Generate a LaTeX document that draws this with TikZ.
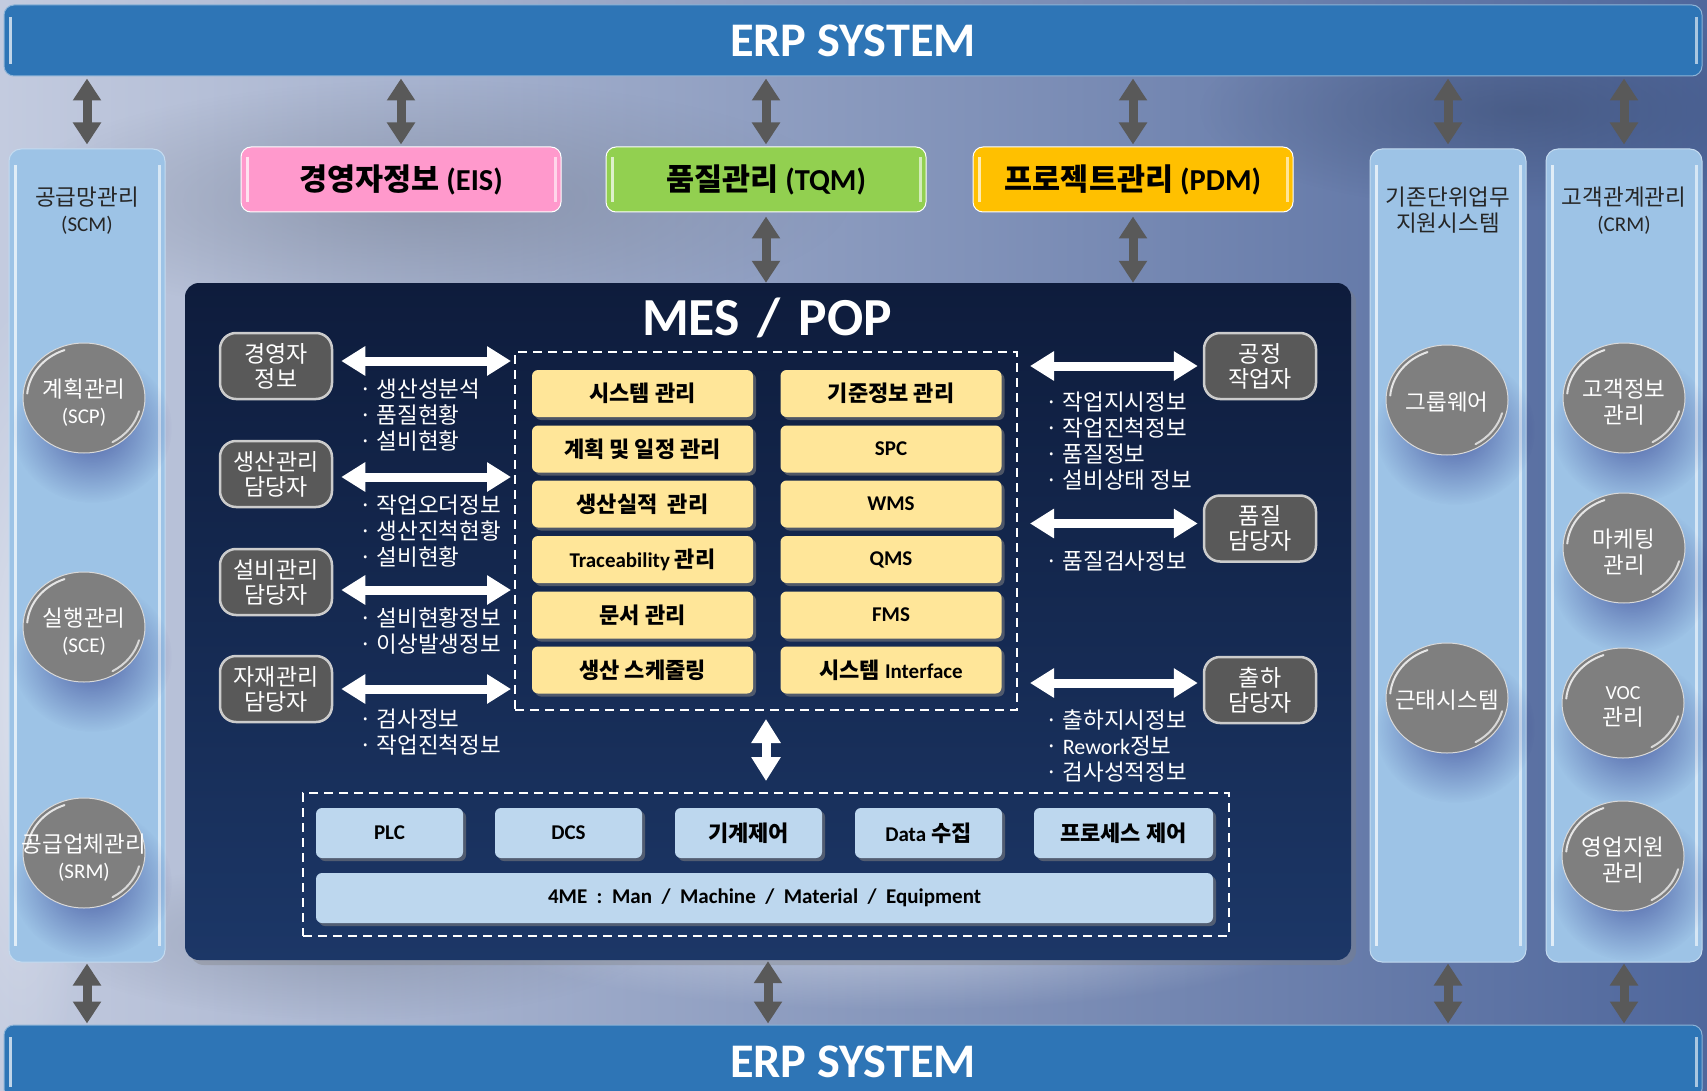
\documentclass[tikz,border=0pt]{standalone}
\usepackage{fontspec}
\usepackage{graphicx}
\setmainfont{Noto Sans CJK KR}
\newfontfamily\cf{Carlito}[Scale=1.05]
\newcommand\lt[2][20]{{\cf\fontsize{#1}{24}\selectfont #2}}
\usetikzlibrary{arrows.meta,shapes.geometric,shadows,fadings}
\tikzfading[name=softblob, inner color=transparent!0, outer color=transparent!100]
\definecolor{erpblue}{HTML}{2E75B6}
\definecolor{colblue}{HTML}{9DC3E6}
\definecolor{mestop}{HTML}{0E1C3C}
\definecolor{mesbot}{HTML}{1C3767}
\definecolor{eispink}{HTML}{FF99CC}
\definecolor{tqmgreen}{HTML}{92D050}
\definecolor{pdmgold}{HTML}{FFC000}
\definecolor{ybox}{HTML}{FFE699}
\definecolor{lbbox}{HTML}{BDD7EE}
\definecolor{actgray}{HTML}{595959}
\definecolor{ballgray}{HTML}{7F7F7F}
\definecolor{arrgray}{HTML}{595959}
\definecolor{bgL}{HTML}{C3CBDF}
\definecolor{bgM}{HTML}{9FAECB}
\definecolor{bgR}{HTML}{4F679C}
\definecolor{bgGray}{HTML}{7B8498}
\newcommand\gloss[1]{%
  \draw[white, opacity=.8, line width=2pt, line cap=round]
    ([shift={(110:57pt and 51pt)}]#1.center) arc[start angle=110, end angle=175, x radius=57pt, y radius=51pt];
  \draw[white, opacity=.7, line width=2pt, line cap=round]
    ([shift={(-60:57pt and 51pt)}]#1.center) arc[start angle=-60, end angle=-15, x radius=57pt, y radius=51pt];}
\newcommand\softshadow[1]{%
  \fill[black!60!blue, opacity=.5, path fading=softblob] ([xshift=8pt,yshift=-30pt]#1) ellipse [x radius=80pt, y radius=75pt];}
\begin{document}
\begin{tikzpicture}[x=1pt,y=-1pt,
  edgeglow/.style={path picture={
     \draw[white,opacity=.7,line width=3pt] ([xshift=6pt,yshift=-#1]path picture bounding box.north west) -- ([xshift=6pt,yshift=#1]path picture bounding box.south west);
     \draw[white,opacity=.6,line width=3pt] ([xshift=-6pt,yshift=-#1]path picture bounding box.north east) -- ([xshift=-6pt,yshift=#1]path picture bounding box.south east);}},
  erpbar/.style={rectangle, rounded corners=10pt, fill=erpblue, draw=erpblue!55!white, line width=1pt,
     minimum width=1698pt, minimum height=71pt, inner sep=0pt, text=white,
     font=\cf\bfseries\fontsize{46}{48}\selectfont, edgeglow=12pt},
  column/.style={rectangle, rounded corners=12pt, fill=colblue, draw=colblue!60!white, line width=1pt,
     minimum width=156pt, minimum height=813pt, inner sep=0pt, edgeglow=16pt},
  header/.style={align=center, text=black!85, inner sep=0pt, font=\fontsize{22.5}{26}\selectfont},
  ball/.style={ellipse, fill=ballgray, draw=white!70!gray, line width=1pt,
     minimum width=122pt, minimum height=110pt, inner sep=0pt},
  balltext/.style={align=center, text=white, inner sep=0pt, font=\fontsize{22.5}{26}\selectfont},
  topbox/.style={rectangle, rounded corners=10pt, minimum width=320pt, minimum height=65pt, inner sep=0pt,
     draw=white!60, line width=1pt, font=\bfseries\fontsize{30.5}{34}\selectfont, edgeglow=10pt},
  mesbox/.style={rectangle, rounded corners=14pt, top color=mestop, bottom color=mesbot,
     minimum width=1166pt, minimum height=677pt, inner sep=0pt,
     drop shadow={shadow xshift=5pt, shadow yshift=-5pt, opacity=.35}},
  mestitle/.style={text=white, inner sep=0pt, font=\cf\bfseries\fontsize{51}{54}\selectfont},
  actor/.style={rectangle, rounded corners=16pt, fill=actgray, draw=white!80!black, line width=2.5pt,
     minimum width=112pt, minimum height=66pt, inner sep=0pt, align=center, text=white,
     font=\fontsize{23}{25}\selectfont},
  dashbox/.style={rectangle, draw=white, line width=2pt, dash pattern=on 9pt off 6pt, inner sep=0pt},
  module/.style={rectangle, rounded corners=6pt, fill=ybox, minimum width=221pt, minimum height=47pt,
     inner sep=0pt, font=\bfseries\fontsize{22}{24}\selectfont,
     drop shadow={shadow xshift=3pt, shadow yshift=-3pt, opacity=.55}},
  fieldbox/.style={rectangle, rounded corners=6pt, fill=lbbox, minimum height=50pt, inner sep=0pt,
     font=\bfseries\fontsize{22}{24}\selectfont,
     drop shadow={shadow xshift=3pt, shadow yshift=-3pt, opacity=.55}},
  info/.style={anchor=west, align=left, text=white, inner sep=0pt, font=\fontsize{22.5}{26}\selectfont},
  garrow/.style={draw=arrgray, line width=9pt, {Triangle[width=27pt,length=22pt]}-{Triangle[width=27pt,length=22pt]}},
  warrow/.style={draw=white, line width=9pt, {Triangle[width=28pt,length=24pt]}-{Triangle[width=28pt,length=24pt]}}
]
\useasboundingbox (0,0) rectangle (1707,1091);
\clip (0,0) rectangle (1707,1091);
% background
\shade[left color=bgL, middle color=bgM, right color=bgR] (0,0) rectangle (1707,1091);
\fill[bgGray, opacity=.6, path fading=softblob] (430,200) ellipse [x radius=420pt, y radius=120pt];
\fill[bgGray, opacity=.5, path fading=softblob] (350,940) ellipse [x radius=300pt, y radius=80pt];
\fill[white, opacity=.45, path fading=softblob] (900,930) ellipse [x radius=420pt, y radius=80pt];
\fill[white, opacity=.4, path fading=softblob] (20,700) ellipse [x radius=80pt, y radius=400pt];
\fill[bgR!70!black, opacity=.5, path fading=softblob] (1520,110) ellipse [x radius=320pt, y radius=100pt];

% ERP bars
\node[erpbar] (erpT) at (853,40.5) {ERP SYSTEM};
\node[erpbar, minimum height=74pt] (erpB) at (853,1062) {ERP SYSTEM};

% side columns
\node[column] (scm) at (87,555.5) {};
\node[column] (ksys) at (1448,555.5) {};
\node[column] (crm) at (1624,555.5) {};
\node[header] (scmH) at (87,210.5) {공급망관리\\\lt{(SCM)}};
\node[header] (ksysH) at (1448,210.5) {기존단위업무\\지원시스템};
\node[header] (crmH) at (1624,210.5) {고객관계관리\\\lt{(CRM)}};

% balls
\coordinate (pSCP) at (84,398);
\coordinate (pSCE) at (84,627);
\coordinate (pSRM) at (84,853);
\coordinate (pGW) at (1447,400);
\coordinate (pGT) at (1447,698);
\coordinate (pCI) at (1624,398);
\coordinate (pMK) at (1624,548);
\coordinate (pVOC) at (1623,703);
\coordinate (pSA) at (1623,856);
\softshadow{pSCP}\softshadow{pSCE}\softshadow{pSRM}
\softshadow{pGW}\softshadow{pGT}
\softshadow{pCI}\softshadow{pMK}\softshadow{pVOC}\softshadow{pSA}
\node[ball, label={[balltext, yshift=-5pt]center:계획관리\\\lt{(SCP)}}] (scp) at (pSCP) {};
\node[ball, label={[balltext, yshift=-5pt]center:실행관리\\\lt{(SCE)}}] (sce) at (pSCE) {};
\node[ball, label={[balltext, yshift=-5pt]center:공급업체관리\\\lt{(SRM)}}] (srm) at (pSRM) {};
\node[ball, label={[balltext, yshift=-2pt]center:그룹웨어}] (gw) at (pGW) {};
\node[ball, label={[balltext, yshift=-2pt]center:근태시스템}] (gt) at (pGT) {};
\node[ball, label={[balltext, yshift=-4pt]center:고객정보\\관리}] (ci) at (pCI) {};
\node[ball, label={[balltext, yshift=-4pt]center:마케팅\\관리}] (mk) at (pMK) {};
\node[ball, label={[balltext, yshift=-4pt]center:\lt[19]{VOC}\\관리}] (voc) at (pVOC) {};
\node[ball, label={[balltext, yshift=-4pt]center:영업지원\\관리}] (sa) at (pSA) {};
\gloss{scp}\gloss{sce}\gloss{srm}\gloss{gw}\gloss{gt}\gloss{ci}\gloss{mk}\gloss{voc}\gloss{sa}

% top boxes
\node[topbox, fill=eispink] (eis) at (401,179.5) {경영자정보 \lt[29]{(EIS)}};
\node[topbox, fill=tqmgreen] (tqm) at (766,179.5) {품질관리 \lt[29]{(TQM)}};
\node[topbox, fill=pdmgold] (pdm) at (1133,179.5) {프로젝트관리 \lt[29]{(PDM)}};

% MES block
\node[mesbox] (mes) at (768,621.5) {};
\node[mestitle] (mesT) at (767,318) {MES\hspace{18pt}/\hspace{18pt}POP};
\node[dashbox, minimum width=502pt, minimum height=358pt] (core) at (766,531) {};

\node[module] (m1) at (642.5,393.5) {시스템 관리};
\node[module] (m2) at (891,393.5) {기준정보 관리};
\node[module] (m3) at (642.5,449) {계획 및 일정 관리};
\node[module] (m4) at (891,449) {\lt{SPC}};
\node[module] (m5) at (642.5,504) {생산실적\ \ 관리};
\node[module] (m6) at (891,504) {\lt{WMS}};
\node[module] (m7) at (642.5,559.5) {\lt{Traceability} 관리};
\node[module] (m8) at (891,559.5) {\lt{QMS}};
\node[module] (m9) at (642.5,615) {문서 관리};
\node[module] (m10) at (891,615) {\lt{FMS}};
\node[module] (m11) at (642.5,670) {생산 스케줄링};
\node[module] (m12) at (891,670) {시스템 \lt{Interface}};

\node[actor] (a1) at (276,366) {경영자\\정보};
\node[actor] (a2) at (276,474) {생산관리\\담당자};
\node[actor] (a3) at (276,582) {설비관리\\담당자};
\node[actor] (a4) at (276,689) {자재관리\\담당자};
\node[actor] (b1) at (1260,366) {공정\\작업자};
\node[actor] (b2) at (1260,528.5) {품질\\담당자};
\node[actor] (b3) at (1260,690) {출하\\담당자};

\node[info] (l1) at (359,415.5) {· 생산성분석\\· 품질현황\\· 설비현황};
\node[info] (l2) at (359,531.5) {· 작업오더정보\\· 생산진척현황\\· 설비현황};
\node[info] (l3) at (359,631.5) {· 설비현황정보\\· 이상발생정보};
\node[info] (l4) at (359,732) {· 검사정보\\· 작업진척정보};
\node[info] (r1) at (1045,441) {· 작업지시정보\\· 작업진척정보\\· 품질정보\\· 설비상태 정보};
\node[info] (r2) at (1045,561) {· 품질검사정보};
\node[info] (r3) at (1045,746.5) {· 출하지시정보\\· \lt[21]{Rework}정보\\· 검사성적정보};

\node[dashbox, minimum width=926pt, minimum height=143pt] (field) at (766,864.5) {};
\node[fieldbox, minimum width=147pt] (f1) at (389.5,833) {\lt{PLC}};
\node[fieldbox, minimum width=147pt] (f2) at (568.5,833) {\lt{DCS}};
\node[fieldbox, minimum width=147pt] (f3) at (748.5,833) {기계제어};
\node[fieldbox, minimum width=147pt] (f4) at (928.5,833) {\lt{Data} 수집};
\node[fieldbox, minimum width=179pt] (f5) at (1123.5,833) {프로세스 제어};
\node[fieldbox, minimum width=897pt] (f6) at (764.5,898) {\lt{4ME\ \ :\ \ Man\ \ /\ \ Machine\ \ /\ \ Material\ \ /\ \ Equipment}};

% gray connectors
\draw[garrow, shorten <=2pt, shorten >=4pt] (erpT.south -| scm.north) -- (scm.north);
\draw[garrow, shorten <=2pt, shorten >=2pt] (erpT.south -| eis.north) -- (eis.north);
\draw[garrow, shorten <=2pt, shorten >=2pt] (erpT.south -| tqm.north) -- (tqm.north);
\draw[garrow, shorten <=2pt, shorten >=2pt] (erpT.south -| pdm.north) -- (pdm.north);
\draw[garrow, shorten <=2pt, shorten >=4pt] (erpT.south -| ksys.north) -- (ksys.north);
\draw[garrow, shorten <=2pt, shorten >=4pt] (erpT.south -| crm.north) -- (crm.north);
\draw[garrow, shorten <=4pt] (tqm.south) -- (tqm.south |- mes.north);
\draw[garrow, shorten <=4pt] (pdm.south) -- (pdm.south |- mes.north);
\draw[garrow, shorten <=1pt, shorten >=1pt] (scm.south) -- (scm.south |- erpB.north);
\draw[garrow, shorten <=1pt, shorten >=1pt] (mes.south) -- (mes.south |- erpB.north);
\draw[garrow, shorten <=1pt, shorten >=1pt] (ksys.south) -- (ksys.south |- erpB.north);
\draw[garrow, shorten <=1pt, shorten >=1pt] (crm.south) -- (crm.south |- erpB.north);

% white connectors
\draw[warrow, shorten <=8pt, shorten >=3pt, transform canvas={yshift=5pt}] (a1.east) -- (a1.east -| core.west);
\draw[warrow, shorten <=8pt, shorten >=3pt, transform canvas={yshift=-3pt}] (a2.east) -- (a2.east -| core.west);
\draw[warrow, shorten <=8pt, shorten >=3pt, transform canvas={yshift=-8pt}] (a3.east) -- (a3.east -| core.west);
\draw[warrow, shorten <=8pt, shorten >=3pt] (a4.east) -- (a4.east -| core.west);
\draw[warrow, shorten <=12pt, shorten >=5pt] (core.east |- b1.west) -- (b1.west);
\draw[warrow, shorten <=12pt, shorten >=5pt, transform canvas={yshift=5pt}] (core.east |- b2.west) -- (b2.west);
\draw[warrow, shorten <=12pt, shorten >=5pt, transform canvas={yshift=7pt}] (core.east |- b3.west) -- (b3.west);
\draw[warrow, shorten <=8pt, shorten >=11pt] (core.south) -- (core.south |- field.north);
\end{tikzpicture}
\end{document}
